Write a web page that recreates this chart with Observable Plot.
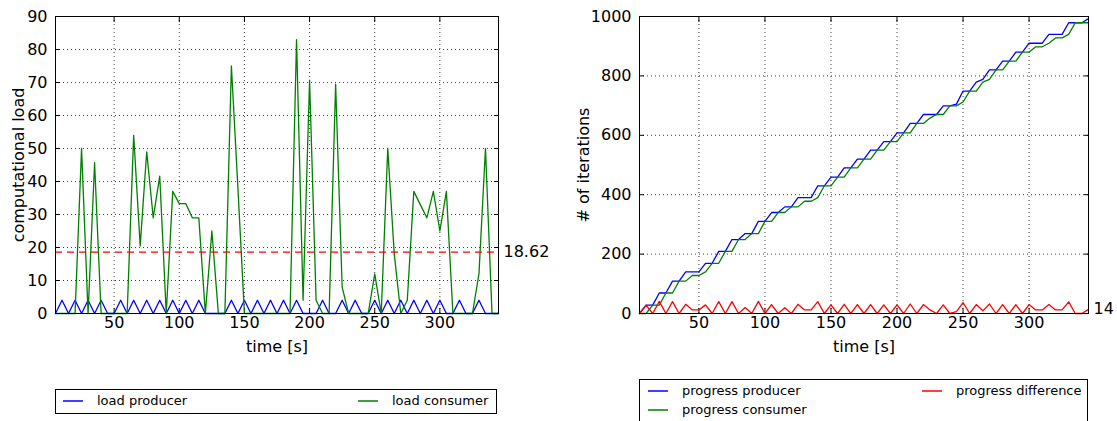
<!DOCTYPE html>
<html><head><meta charset="utf-8">
<script src="https://cdn.jsdelivr.net/npm/d3@7"></script>
<script src="https://cdn.jsdelivr.net/npm/@observablehq/plot@0.6"></script>
<style>
body{margin:0;background:#fff;overflow:hidden;font-family:"DejaVu Sans",sans-serif;}
#wrap{position:relative;width:1117px;height:421px;overflow:hidden;background:#fff;}
.chart{position:absolute;top:0;}
.legend{position:absolute;border:1px solid #000;background:#fff;font-size:13px;box-sizing:border-box;color:#000;}
.item{position:absolute;display:flex;align-items:center;white-space:nowrap;height:16px;line-height:16px;}
.swatch{display:inline-block;width:20px;height:2px;margin-right:14px;}
</style></head><body><div id="wrap"></div>
<script>
// ---------- data ----------
const time = [5,10,15,20,25,30,35,40,45,50,55,60,65,70,75,80,85,90,95,100,105,110,115,120,125,130,135,140,145,150,155,160,165,170,175,180,185,190,195,200,205,210,215,220,225,230,235,240,245,250,255,260,265,270,275,280,285,290,295,300,305,310,315,320,325,330,335,340,345];

const loadProducer = [0,4,0,4,0,4,0,4,0,0, 4,0,4,0,4,0,4,0,4,0, 4,0,4,0,0,0,0,4,0,4, 0,4,0,4,0,4,0,4,0,0, 0,4,0,0,4,0,4,0,0,4, 0,4,0,4,0,4,0,4,0,4, 0,0,4,0,0,4,0,0,0];

const loadConsumer = [0,0,0,0,50,0,45.7,0,0,0, 0,0,54,20.5,49,29,41.6,0,37,33.3, 33.3,29,29,0,25,0,0,75,38,0, 0,0,0,0,0,0,0,83,4,70.7, 4,0,0,69.5,8,0,0,0,0,12, 0,50,18,0,4,37,33,29,37,25, 37,0,0,0,0,12,50,0,0];

const meanLoad = 18.62;

const progressProducer = [0,28,28,69,69,109,109,140,140,140, 169,169,209,209,249,249,269,269,310,310, 340,340,359,359,390,390,390,430,430,459, 459,490,490,520,520,550,550,579,579,608, 608,640,640,670,670,670,699,699,705,749, 749,779,788,820,820,850,850,880,880,910, 910,910,940,940,940,979,979,979,993];

const progressConsumer = [0,0,28,28,69,69,109,109,128,128, 140,169,169,209,209,249,249,269,269,310, 310,340,340,359,359,378,378,390,430,430, 459,459,490,490,520,520,550,550,579,579, 608,608,640,640,658,670,670,699,699,712, 749,749,779,788,820,820,850,850,880,880, 898,898,910,928,928,940,979,979,979];

const progressDifference = [0,28,0,41,0,40,0,31,12,12, 29,0,40,0,40,0,20,0,41,0, 30,0,19,0,31,12,12,40,0,29, 0,31,0,30,0,30,0,29,0,29, 0,32,0,30,12,0,29,0,6,37, 0,30,9,32,0,30,0,30,0,30, 12,12,30,12,12,39,0,0,14];

const xTicks = [50,100,150,200,250,300];
const loadTicks = [0,10,20,30,40,50,60,70,80,90];
const iterTicks = [0,200,400,600,800,1000];

const leftLegend = [{name:"load producer", color:"#0000ff"}, {name:"load consumer", color:"#008000"}];
const rightLegend = [{name:"progress producer", color:"#0000ff"}, {name:"progress difference", color:"#ff0000"}, {name:"progress consumer", color:"#008000"}];

// ---------- tables ----------
const loadRows = time.map((t, i) => ({t, producer: loadProducer[i], consumer: loadConsumer[i]}));
const progRows = time.map((t, i) => ({t, producer: progressProducer[i], consumer: progressConsumer[i], diff: progressDifference[i]}));
const lastT = time[time.length - 1];

const wrap = document.getElementById("wrap");
const FS = 16;

function frameMarks(yTicks) {
  const grid = {stroke: "#000", strokeOpacity: 0.75, strokeDasharray: "1,3", strokeWidth: 1};
  return [
    Plot.gridX(xTicks, grid),
    Plot.gridY(yTicks, grid),
    Plot.axisX(xTicks, {anchor: "bottom", tickSize: -5, tickPadding: 8, label: null, fontSize: FS}),
    Plot.axisX(xTicks, {anchor: "top", tickSize: -5, tickFormat: () => "", label: null}),
    Plot.axisY(yTicks, {anchor: "left", tickSize: -5, tickPadding: 13, label: null, tickFormat: d => String(d), fontSize: FS}),
    Plot.axisY(yTicks, {anchor: "right", tickSize: -5, tickFormat: () => "", label: null}),
    Plot.text(["time [s]"], {frameAnchor: "bottom", lineAnchor: "middle", textAnchor: "middle", dy: 33, text: d => d, fontSize: FS, fill: "#000"})
  ];
}

const style = {fontFamily: "DejaVu Sans, sans-serif", fontSize: FS + "px", color: "#000", background: "transparent", overflow: "visible"};

// ---------- left chart ----------
const left = Plot.plot({
  width: 560, height: 421,
  marginLeft: 55, marginRight: 62, marginTop: 16, marginBottom: 108,
  style,
  x: {domain: [time[0], lastT], label: null},
  y: {domain: [0, 90], label: null},
  marks: [
    ...frameMarks(loadTicks),
    Plot.lineY(loadRows, {x: "t", y: "producer", stroke: "#0000ff", strokeWidth: 1.3}),
    Plot.lineY(loadRows, {x: "t", y: "consumer", stroke: "#008000", strokeWidth: 1.3}),
    Plot.ruleY([meanLoad], {stroke: "#ff0000", strokeDasharray: "7,5", strokeWidth: 1.3}),
    Plot.text([meanLoad], {x: () => lastT, y: d => d, text: d => d.toFixed(2), textAnchor: "start", dx: 5, fontSize: FS, fill: "#000"}),
    Plot.text(["computational load"], {frameAnchor: "left", textAnchor: "middle", lineAnchor: "middle", rotate: -90, dx: -37, text: d => d, fontSize: FS, fill: "#000"}),
    Plot.frame({stroke: "#000", strokeWidth: 1})
  ]
});
left.classList.add("chart");
left.style.left = "0px";
wrap.appendChild(left);

// ---------- right chart ----------
const right = Plot.plot({
  width: 557, height: 421,
  marginLeft: 79, marginRight: 29, marginTop: 16, marginBottom: 108,
  style,
  x: {domain: [time[0], lastT], label: null},
  y: {domain: [0, 1000], label: null},
  marks: [
    ...frameMarks(iterTicks),
    Plot.lineY(progRows, {x: "t", y: "producer", stroke: "#0000ff", strokeWidth: 1.3}),
    Plot.lineY(progRows, {x: "t", y: "consumer", stroke: "#008000", strokeWidth: 1.3}),
    Plot.lineY(progRows, {x: "t", y: "diff", stroke: "#ff0000", strokeWidth: 1.3}),
    Plot.text([progressDifference[progressDifference.length - 1]], {x: () => lastT, y: d => d, text: d => String(d), textAnchor: "start", dx: 5, fontSize: FS, fill: "#000"}),
    Plot.text(["# of iterations"], {frameAnchor: "left", textAnchor: "middle", lineAnchor: "middle", rotate: -90, dx: -56, text: d => d, fontSize: FS, fill: "#000"}),
    Plot.frame({stroke: "#000", strokeWidth: 1})
  ]
});
right.classList.add("chart");
right.style.left = "560px";
wrap.appendChild(right);

// ---------- legends ----------
function legend(items, box, positions) {
  const div = document.createElement("div");
  div.className = "legend";
  Object.assign(div.style, box);
  items.forEach((it, i) => {
    const el = document.createElement("div");
    el.className = "item";
    el.style.left = positions[i][0] + "px";
    el.style.top = positions[i][1] + "px";
    const sw = document.createElement("span");
    sw.className = "swatch";
    sw.style.background = it.color;
    sw.style.opacity = "0.75";
    el.appendChild(sw);
    el.appendChild(document.createTextNode(it.name));
    div.appendChild(el);
  });
  wrap.appendChild(div);
}
legend(leftLegend, {left: "55px", top: "389px", width: "442px", height: "25px"}, [[7, 3], [302, 3]]);
legend(rightLegend, {left: "639px", top: "379px", width: "449px", height: "60px"}, [[8, 3], [282, 3], [8, 22]]);
</script>
</body></html>
